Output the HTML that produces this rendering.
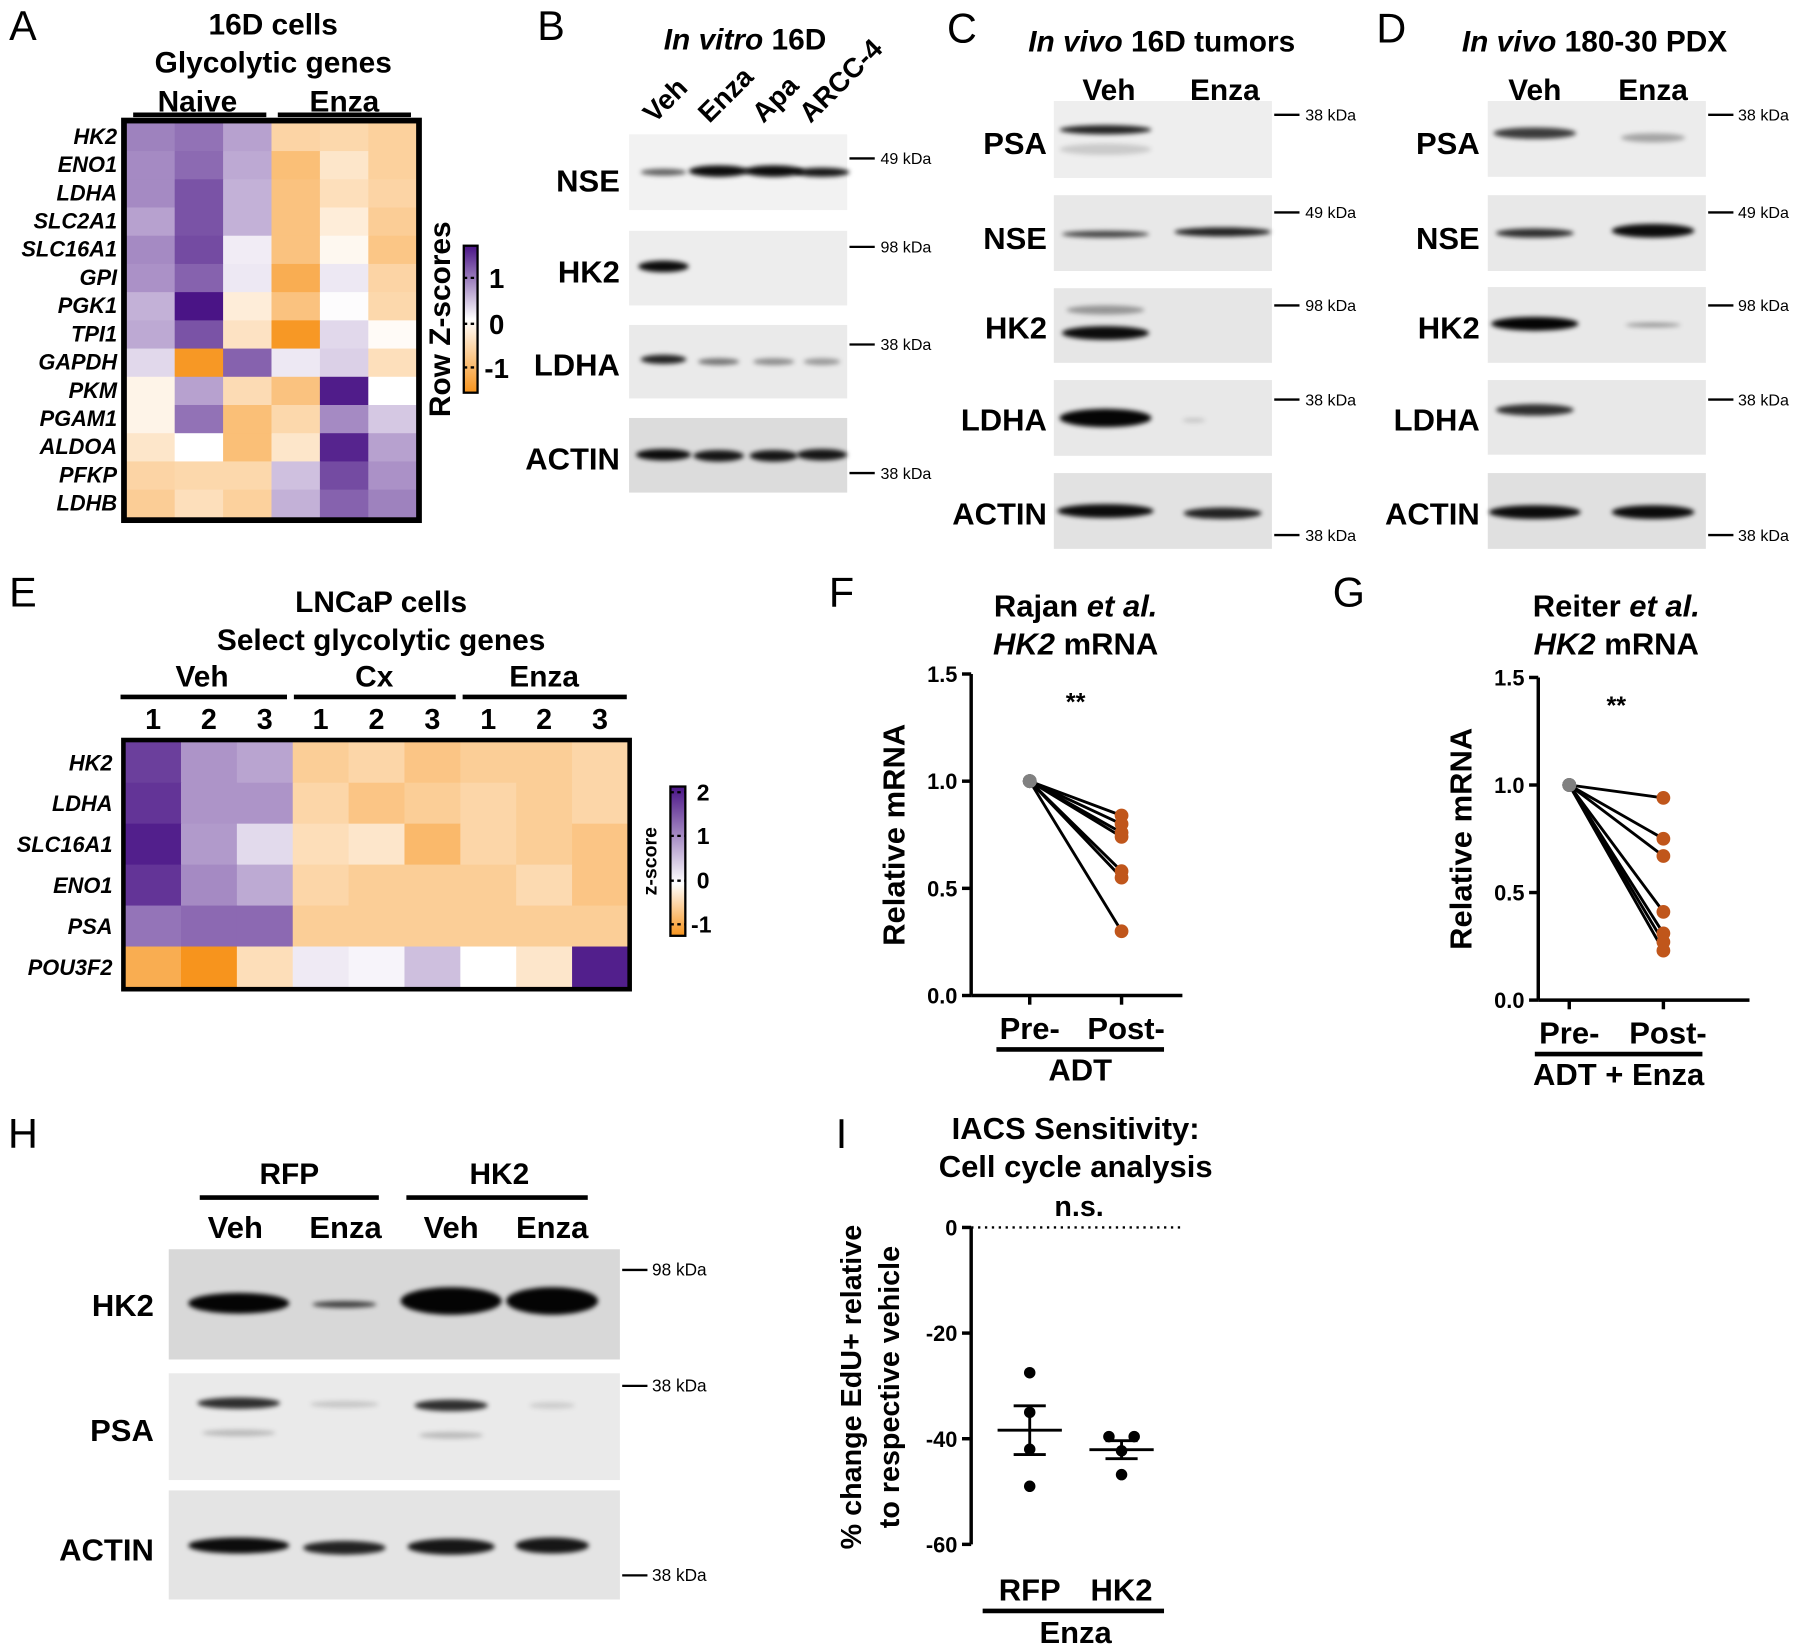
<!DOCTYPE html>
<html><head><meta charset="utf-8"><style>
html,body{margin:0;padding:0;background:#fff}
svg{display:block;font-family:"Liberation Sans",Arial,sans-serif}
</style></head><body>
<svg id="fig" width="1800" height="1650" viewBox="0 0 1568 1437" preserveAspectRatio="none" xmlns="http://www.w3.org/2000/svg">
<defs>
<filter id="blur" x="-50%" y="-200%" width="200%" height="500%"><feGaussianBlur stdDeviation="2.2"/></filter>
<linearGradient id="cbA" x1="0" y1="1" x2="0" y2="0"><stop offset="0" stop-color="#f7941d"/><stop offset="0.5" stop-color="#ffffff"/><stop offset="1" stop-color="#4a1486"/></linearGradient>
<linearGradient id="cbE" x1="0" y1="1" x2="0" y2="0"><stop offset="0" stop-color="#f7941d"/><stop offset="0.35" stop-color="#ffffff"/><stop offset="1" stop-color="#4a1486"/></linearGradient>
</defs>
<g id="root"></g>
</svg>
<script>
// ---------- data ----------
const genesA=["HK2","ENO1","LDHA","SLC2A1","SLC16A1","GPI","PGK1","TPI1","GAPDH","PKM","PGAM1","ALDOA","PFKP","LDHB"];
const zA=[[0.8,0.9,0.6,-0.6,-0.55,-0.65],[0.75,0.95,0.55,-0.9,-0.35,-0.65],[0.75,1.1,0.5,-0.85,-0.45,-0.6],[0.6,1.1,0.5,-0.85,-0.25,-0.7],[0.75,1.15,0.12,-0.85,-0.1,-0.8],[0.7,1.0,0.15,-1.15,0.15,-0.6],[0.5,1.5,-0.25,-0.85,0.02,-0.55],[0.55,1.1,-0.4,-1.45,0.25,-0.05],[0.25,-1.45,1.0,0.15,0.3,-0.45],[-0.15,0.6,-0.5,-0.85,1.45,0.0],[-0.15,0.9,-0.9,-0.55,0.75,0.35],[-0.35,0.0,-0.9,-0.35,1.4,0.6],[-0.6,-0.55,-0.55,0.4,1.15,0.7],[-0.7,-0.45,-0.65,0.5,1.0,0.8]];
const genesE=["HK2","LDHA","SLC16A1","ENO1","PSA","POU3F2"];
const zE=[[1.8,1.0,0.85,-0.6,-0.5,-0.7,-0.6,-0.6,-0.5],[1.9,1.0,1.0,-0.5,-0.7,-0.6,-0.5,-0.6,-0.5],[2.1,0.95,0.35,-0.4,-0.3,-0.85,-0.5,-0.6,-0.7],[1.9,1.1,0.8,-0.5,-0.6,-0.6,-0.6,-0.45,-0.7],[1.3,1.4,1.4,-0.6,-0.6,-0.6,-0.6,-0.6,-0.6],[-1.0,-1.3,-0.4,0.2,0.1,0.6,0.0,-0.3,2.1]];
const fPre=[1,1,1,1,1,1,1];
const fPost=[0.84,0.80,0.76,0.74,0.58,0.55,0.30];
const gPre=[1,1,1,1,1,1,1];
const gPost=[0.94,0.75,0.67,0.41,0.31,0.27,0.23];
const fTicks=[0,0.5,1.0,1.5];
const fTickLabels=["0.0","0.5","1.0","1.5"];
const iGroups=["RFP","HK2"];
const iRFP=[-27.5,-35,-42,-49];
const iHK2=[-39.6,-39.6,-42.3,-46.8];
const iTicks=[0,-20,-40,-60];

const NS="http://www.w3.org/2000/svg";
const root=document.getElementById('root');
function el(tag,attrs,parent){const e=document.createElementNS(NS,tag);for(const k in attrs)e.setAttribute(k,attrs[k]);(parent||root).appendChild(e);return e;}
function txt(s,x,y,size,opts,parent){opts=opts||{};const t=el('text',{x:x,y:y,'font-size':size,'text-anchor':opts.anchor||'middle','font-weight':opts.bold===false?'normal':'bold','font-style':opts.italic?'italic':'normal'},parent);if(opts.rot)t.setAttribute('transform',`rotate(${opts.rot} ${x} ${y})`);t.textContent=s;return t;}
function mtxt(parts,x,y,size,parent){const t=el('text',{x:x,y:y,'font-size':size,'text-anchor':'middle','font-weight':'bold'},parent);parts.forEach(p=>{const s=el('tspan',{'font-style':p[1]?'italic':'normal'},t);s.textContent=p[0];});return t;}
function mix(a,b,t){const pa=[parseInt(a.slice(1,3),16),parseInt(a.slice(3,5),16),parseInt(a.slice(5,7),16)],pb=[parseInt(b.slice(1,3),16),parseInt(b.slice(3,5),16),parseInt(b.slice(5,7),16)];return 'rgb('+pa.map((v,i)=>Math.round(v+(pb[i]-v)*t)).join(',')+')';}
function col(v,neg,pos){if(v>=0)return mix('#ffffff','#4a1486',Math.min(1,v/pos));return mix('#ffffff','#f7941d',Math.min(1,-v/neg));}

// ---------- panel letters ----------
[["A",20,35],["B",480,35],["C",838,37],["D",1212,37],["E",20,528],["F",733,528],["G",1175,528],["H",20,1000],["I",733,1000]].forEach(p=>{const t=txt(p[0],p[1],p[2],36,{bold:false});});

// ---------- Heatmap A ----------
(function(){
const g=el('g',{});
const x0=110,y0=107,w=253,h=344,cw=w/6,rh=h/genesA.length;
zA.forEach((row,r)=>row.forEach((v,c)=>{const rc=el('rect',{x:x0+c*cw,y:y0+r*rh,width:cw+0.5,height:rh+0.5,fill:col(v,1.5,1.5)},g);}));
el('rect',{x:x0-2,y:y0-2,width:w+4,height:h+4,fill:'none',stroke:'#000','stroke-width':5},g);
genesA.forEach((n,r)=>{const t=txt(n,102,y0+r*rh+rh/2+6,19,{anchor:'end',italic:true},g);});
txt("16D cells",238,30,26,{},g);txt("Glycolytic genes",238,63,26,{},g);
txt("Naive",172,97,26,{},g);txt("Enza",300,97,26,{},g);
el('line',{x1:116,y1:100,x2:232,y2:100,stroke:'#000','stroke-width':4},g);
el('line',{x1:242,y1:100,x2:358,y2:100,stroke:'#000','stroke-width':4},g);
txt("Row Z-scores",392,278,26,{rot:-90},g);
const cb=el('rect',{x:404,y:214,width:12,height:128,fill:'url(#cbA)',stroke:'#000','stroke-width':2},g);
[[1,242],[0,282],[-1,320]].forEach(t=>{el('line',{x1:404,y1:t[1],x2:416,y2:t[1],stroke:'#000','stroke-width':2,'stroke-dasharray':'3,3'},g);txt(String(t[0]),t[0]<0?422:426,t[1]+9,24,{anchor:'start'},g);});
})();

// ---------- Heatmap E ----------
(function(){
const g=el('g',{});
const x0=109,y0=646,w=438,h=214,cw=w/9,rh=h/genesE.length;
zE.forEach((row,r)=>row.forEach((v,c)=>{const rc=el('rect',{x:x0+c*cw,y:y0+r*rh,width:cw+0.5,height:rh+0.5,fill:col(v,1.3,2.2)},g);}));
el('rect',{x:x0-1.5,y:y0-1.5,width:w+3,height:h+3,fill:'none',stroke:'#000','stroke-width':4},g);
genesE.forEach((n,r)=>{const t=txt(n,98,y0+r*rh+rh/2+7,19,{anchor:'end',italic:true},g);});
txt("LNCaP cells",332,533,26,{},g);txt("Select glycolytic genes",332,566,26,{},g);
[["Veh",176,105,250],["Cx",326,256,397],["Enza",474,403,546]].forEach(s=>{txt(s[0],s[1],598,26,{},g);el('line',{x1:s[2],y1:607,x2:s[3],y2:607,stroke:'#000','stroke-width':4},g);});
for(let c=0;c<9;c++)txt(String(c%3+1),x0+c*cw+cw/2,635,25,{},g);
txt("z-score",572,750,17,{rot:-90},g);
el('rect',{x:584,y:685,width:13,height:130,fill:'url(#cbE)',stroke:'#000','stroke-width':2},g);
[[2,690],[1,728],[0,767],[-1,805]].forEach(t=>{el('line',{x1:584,y1:t[1],x2:597,y2:t[1],stroke:'#000','stroke-width':2,'stroke-dasharray':'3,3'},g);txt(String(t[0]),t[0]<0?602:607,t[1]+7,20,{anchor:'start'},g);});
})();

// ---------- Blots ----------
function blot(name,x,y,w,h,bg,bands,parent){
  const g=el('g',{},parent);
  el('rect',{x:x,y:y,width:w,height:h,fill:bg},g);
  bands.forEach(b=>{const e=el('ellipse',{cx:b[0],cy:b[1],rx:b[2],ry:b[3],fill:'#000','fill-opacity':b[4],filter:'url(#blur)'},g);});
  return g;
}
function marker(x,y,label,tx,size){el('line',{x1:x,y1:y,x2:x+22,y2:y,stroke:'#000','stroke-width':2});txt(label,tx,y+5,size||14,{anchor:'start',bold:false});}
// B
(function(){
const L=[578,626,674,716];
mtxt([["In vitro",1],[" 16D",0]],649,43,26);
[["Veh",570],["Enza",618],["Apa",665],["ARCC-4",706]].forEach(s=>txt(s[0],s[1],108,24,{anchor:'start',rot:-45}));
blot('blot-b-nse',548,117,190,66,'#f2f2f2',[[L[0],150,20,3,0.6],[L[1],149,26,5,0.95],[L[2],149,26,5,0.95],[L[3],150,24,4,0.9]]);
blot('blot-b-hk2',548,201,190,65,'#ededed',[[L[0],232,22,5,0.95]]);
blot('blot-b-ldha',548,283,190,64,'#eaeaea',[[L[0],313,20,4,0.85],[L[1],315,18,3,0.5],[L[2],315,18,3,0.4],[L[3],315,16,3,0.35]]);
blot('blot-b-actin',548,364,190,65,'#dcdcdc',[[L[0],396,24,5,0.95],[L[1],397,22,5,0.9],[L[2],397,21,5,0.9],[L[3],396,22,5,0.9]]);
[["NSE",158],["HK2",237],["LDHA",318],["ACTIN",400]].forEach(s=>txt(s[0],540,s[1]+9,27,{anchor:'end'}));
marker(740,138,"49 kDa",767);marker(740,215,"98 kDa",767);marker(740,300,"38 kDa",767);marker(740,412,"38 kDa",767);
})();
// C
(function(){
mtxt([["In vivo",1],[" 16D tumors",0]],1012,45,26);
txt("Veh",966,87,26,{});txt("Enza",1067,87,26,{});
const L=[963,1065];
blot('blot-c-psa',918,88,190,67,'#eeeeee',[[L[0],113,40,4,0.85],[L[0],130,40,5,0.15]]);
blot('blot-c-nse',918,170,190,66,'#e8e8e8',[[L[0],204,38,3,0.7],[L[1],202,42,4,0.85]]);
blot('blot-c-hk2',918,251,190,65,'#e6e6e6',[[L[0],270,34,4,0.35],[L[0],290,38,6,0.95]]);
blot('blot-c-ldha',918,331,190,66,'#e8e8e8',[[L[0],364,40,8,0.98],[1040,366,10,2,0.15]]);
blot('blot-c-actin',918,412,190,66,'#e2e2e2',[[L[0],445,42,6,0.95],[L[1],447,34,5,0.85]]);
[["PSA",125],["NSE",208],["HK2",286],["LDHA",366],["ACTIN",448]].forEach(s=>txt(s[0],912,s[1]+9,27,{anchor:'end'}));
marker(1110,100,"38 kDa",1137);marker(1110,185,"49 kDa",1137);marker(1110,266,"98 kDa",1137);marker(1110,348,"38 kDa",1137);marker(1110,466,"38 kDa",1137);
})();
// D
(function(){
mtxt([["In vivo",1],[" 180-30 PDX",0]],1389,45,26);
txt("Veh",1337,87,26,{});txt("Enza",1440,87,26,{});
const L=[1337,1440];
blot('blot-d-psa',1296,88,190,66,'#ececec',[[L[0],116,36,5,0.75],[L[1],120,28,4,0.3]]);
blot('blot-d-nse',1296,170,190,66,'#e8e8e8',[[L[0],203,34,4,0.8],[L[1],201,36,6,0.95]]);
blot('blot-d-hk2',1296,250,190,66,'#e8e8e8',[[L[0],282,38,6,0.98],[L[1],283,24,2,0.35]]);
blot('blot-d-ldha',1296,331,190,65,'#e8e8e8',[[L[0],357,34,5,0.8]]);
blot('blot-d-actin',1296,412,190,66,'#e0e0e0',[[L[0],446,40,6,0.95],[L[1],446,36,6,0.95]]);
[["PSA",125],["NSE",208],["HK2",286],["LDHA",366],["ACTIN",448]].forEach(s=>txt(s[0],1289,s[1]+9,27,{anchor:'end'}));
marker(1488,100,"38 kDa",1514);marker(1488,185,"49 kDa",1514);marker(1488,266,"98 kDa",1514);marker(1488,348,"38 kDa",1514);marker(1488,466,"38 kDa",1514);
})();
// H
(function(){
txt("RFP",252,1031,26,{});txt("HK2",435,1031,26,{});
el('line',{x1:174,y1:1043,x2:330,y2:1043,stroke:'#000','stroke-width':4});
el('line',{x1:354,y1:1043,x2:512,y2:1043,stroke:'#000','stroke-width':4});
[["Veh",205],["Enza",301],["Veh",393],["Enza",481]].forEach(s=>txt(s[0],s[1],1078,27,{}));
const L=[208,300,393,481];
blot('blot-h-hk2',147,1088,393,96,'#d8d8d8',[[L[0],1135,44,9,0.98],[L[1],1136,28,3,0.7],[L[2],1133,44,12,0.98],[L[3],1133,40,12,0.98]]);
blot('blot-h-psa',147,1196,393,93,'#eaeaea',[[L[0],1222,36,5,0.8],[L[0],1248,32,3,0.2],[L[1],1223,30,3,0.15],[L[2],1224,32,5,0.8],[L[2],1250,28,3,0.2],[L[3],1224,20,3,0.12]]);
blot('blot-h-actin',147,1298,393,95,'#e4e4e4',[[L[0],1346,44,7,0.95],[L[1],1348,36,6,0.85],[L[2],1347,38,7,0.9],[L[3],1346,32,7,0.9]]);
[["HK2",1137],["PSA",1246],["ACTIN",1350]].forEach(s=>txt(s[0],134,s[1]+9,27,{anchor:'end'}));
marker(542,1106,"98 kDa",568,15);marker(542,1207,"38 kDa",568,15);marker(542,1372,"38 kDa",568,15);
})();

// ---------- Paired charts F & G ----------
function paired(name,ax,yTop,yBot,xPre,xPost,pre,post,titles,xlabels,group,gx1,gx2){
  const g=el('g',{});
  const y=v=>yBot-(v/1.5)*(yBot-yTop);
  el('line',{x1:ax,y1:yTop,x2:ax,y2:yBot,stroke:'#000','stroke-width':3},g);
  el('line',{x1:ax,y1:yBot,x2:ax+184,y2:yBot,stroke:'#000','stroke-width':3},g);
  fTicks.forEach((t,i)=>{el('line',{x1:ax-8,y1:y(t),x2:ax,y2:y(t),stroke:'#000','stroke-width':3},g);txt(fTickLabels[i],ax-12,y(t)+7,19,{anchor:'end'},g);});
  [xPre,xPost].forEach(xx=>el('line',{x1:xx,y1:yBot,x2:xx,y2:yBot+8,stroke:'#000','stroke-width':3},g));
  pre.forEach((p,i)=>{const l=el('line',{x1:xPre,y1:y(p),x2:xPost,y2:y(post[i]),stroke:'#000','stroke-width':2.5},g);});
  pre.forEach(p=>{const c=el('circle',{cx:xPre,cy:y(p),r:6,fill:'#808080'},g);});
  post.forEach(p=>{const c=el('circle',{cx:xPost,cy:y(p),r:6,fill:'#c0561b'},g);});
  titles.forEach((t,i)=>mtxt(t,(xPre+xPost)/2,537+i*33,27,g));
  txt("**",(xPre+xPost)/2,yTop+32,22,{},g);
  txt("Relative mRNA",ax-58,(yTop+yBot)/2,27,{rot:-90},g);
  txt(xlabels[0],xPre,yBot+38,27,{},g);txt(xlabels[1],xPost+4,yBot+38,27,{},g);
  el('line',{x1:gx1,y1:yBot+47,x2:gx2,y2:yBot+47,stroke:'#000','stroke-width':4},g);
  txt(group,(gx1+gx2)/2,yBot+74,27,{},g);
}
paired('chart-f',846,587,867,897,977,fPre,fPost,[[["Rajan ",0],["et al.",1]],[["HK2",1],[" mRNA",0]]],["Pre-","Post-"],"ADT",868,1014);
paired('chart-g',1340,590,871,1367,1449,gPre,gPost,[[["Reiter ",0],["et al.",1]],[["HK2",1],[" mRNA",0]]],["Pre-","Post-"],"ADT + Enza",1337,1483);

// ---------- Chart I ----------
(function(){
const g=el('g',{});
const ax=846,yTop=1069,yBot=1345;const y=v=>yTop+(-v/60)*(yBot-yTop);
const xs=[897,977];
el('line',{x1:ax,y1:yTop,x2:ax,y2:yBot,stroke:'#000','stroke-width':3},g);
el('line',{x1:ax,y1:yTop,x2:1030,y2:yTop,stroke:'#000','stroke-width':2,'stroke-dasharray':'2,4'},g);
iTicks.forEach(t=>{el('line',{x1:ax-8,y1:y(t),x2:ax,y2:y(t),stroke:'#000','stroke-width':3},g);txt(String(t),ax-12,y(t)+7,19,{anchor:'end'},g);});
txt("IACS Sensitivity:",937,992,27,{},g);txt("Cell cycle analysis",937,1025,27,{},g);txt("n.s.",940,1059,25,{},g);
txt("% change EdU+ relative",750,1208,25,{rot:-90},g);txt("to respective vehicle",783,1208,25,{rot:-90},g);
[iRFP,iHK2].forEach((arr,gi)=>{
  const m=arr.reduce((a,b)=>a+b,0)/arr.length;
  const sd=Math.sqrt(arr.reduce((a,b)=>a+(b-m)*(b-m),0)/(arr.length-1));const se=sd/Math.sqrt(arr.length);
  const x=xs[gi];
  el('line',{x1:x-28,y1:y(m),x2:x+28,y2:y(m),stroke:'#000','stroke-width':2.5},g);
  el('line',{x1:x,y1:y(m-se),x2:x,y2:y(m+se),stroke:'#000','stroke-width':2.5},g);
  el('line',{x1:x-14,y1:y(m-se),x2:x+14,y2:y(m-se),stroke:'#000','stroke-width':2.5},g);
  el('line',{x1:x-14,y1:y(m+se),x2:x+14,y2:y(m+se),stroke:'#000','stroke-width':2.5},g);
  const seen={};
  arr.forEach(v=>{const k=v.toFixed(1);const n=seen[k]=(seen[k]||0)+1;const off=arr.filter(a=>a.toFixed(1)===k).length>1?(n===1?-11:11):0;const c=el('circle',{cx:x+off,cy:y(v),r:5,fill:'#000'},g);});
  txt(iGroups[gi],x,1394,27,{},g);
});
el('line',{x1:856,y1:1403,x2:1014,y2:1403,stroke:'#000','stroke-width':4},g);
txt("Enza",937,1431,27,{},g);
})();
</script>
</body></html>
